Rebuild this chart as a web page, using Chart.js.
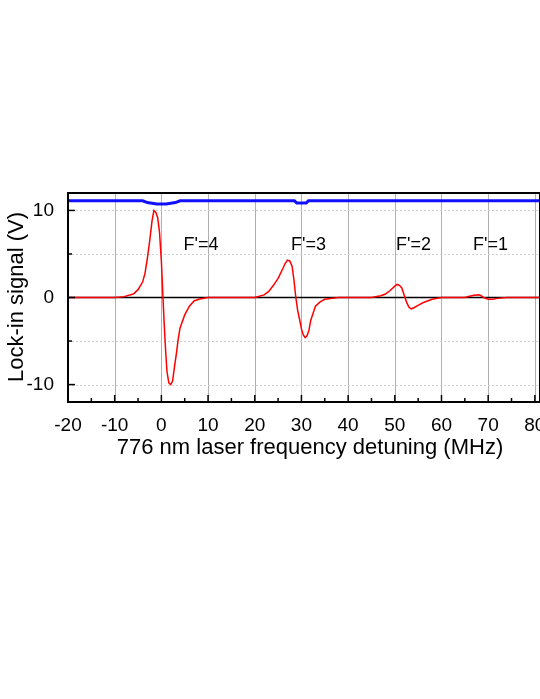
<!DOCTYPE html>
<html>
<head>
<meta charset="utf-8">
<script src="https://cdn.jsdelivr.net/npm/chart.js@4/dist/chart.umd.min.js"></script>
<style>html,body{margin:0;padding:0;background:#fff;}</style>
</head>
<body>
<canvas id="c" width="540" height="699"></canvas>
<script>
// detuning (MHz) and lock-in signal (V)
const redX = [-20, -10, -8, -6, -5, -4, -3.5, -3, -2.5, -2, -1.6, -1.2, -0.8, -0.4, 0, 0.3, 0.6, 0.9, 1.2, 1.6, 2, 2.4, 2.8, 3.2, 3.6, 4, 5, 6, 7, 8, 10,
  20, 22, 23, 24, 25, 26, 26.5, 27, 27.5, 28, 28.4, 28.8, 29.2, 29.6, 30, 30.4, 30.8, 31.2, 31.6, 32, 32.5, 33, 34, 35, 38,
  45, 47, 48, 49, 50, 50.5, 51, 51.5, 52, 52.5, 53, 53.5, 54, 55, 56, 57, 58, 60,
  65, 66, 67, 68, 68.5, 69, 70, 71, 72, 74, 82];
const redY = [0, 0, 0.1, 0.4, 0.9, 1.8, 2.8, 4.5, 6.5, 8.8, 10, 9.8, 9.2, 7.5, 4.2, 0.5, -3, -6, -8.5, -9.8, -10, -9.6, -8, -6.5, -4.8, -3.5, -2, -1, -0.4, -0.2, 0,
  0, 0.3, 0.7, 1.4, 2.2, 3.3, 3.9, 4.3, 4.2, 3.6, 2, 0, -1.5, -2.5, -3.6, -4.3, -4.6, -4.4, -3.8, -2.6, -1.8, -1, -0.5, -0.2, 0,
  0, 0.2, 0.4, 0.8, 1.3, 1.5, 1.4, 1.1, 0.3, -0.5, -1.1, -1.3, -1.2, -0.9, -0.6, -0.4, -0.2, 0,
  0, 0.15, 0.25, 0.3, 0.2, 0, -0.2, -0.2, -0.1, 0, 0];
const blueX = [-20, -4, -3, -1, 1, 3, 4, 28.5, 29, 31, 31.5, 82];
const blueY = [11.1, 11.1, 10.9, 10.75, 10.75, 10.9, 11.1, 11.1, 10.85, 10.85, 11.1, 11.1];
const peakLabels = ["F'=4", "F'=3", "F'=2", "F'=1"];
const peakLabelX = [8.5, 31.5, 54, 70.5];
const peakLabelY = 6;

const toPts = (xs, ys) => xs.map((x, i) => ({x: x, y: ys[i]}));
const FONT = '"Liberation Sans", Arial, sans-serif';

const frame = {
  id: 'frame',
  beforeDatasetsDraw(chart) {
    const {ctx, chartArea: a, scales: {x, y}} = chart;
    ctx.save();
    ctx.lineWidth = 1;
    ctx.strokeStyle = '#b0b0b0';
    for (let v = -10; v <= 80; v += 10) {
      const px = Math.round(x.getPixelForValue(v)) + 0.5;
      ctx.beginPath(); ctx.moveTo(px, a.top); ctx.lineTo(px, a.bottom); ctx.stroke();
    }
    ctx.setLineDash([2, 2]);
    ctx.strokeStyle = '#d0d0d0';
    [-10, -5, 5, 10].forEach(v => {
      const py = Math.round(y.getPixelForValue(v)) + 0.5;
      ctx.beginPath(); ctx.moveTo(a.left, py); ctx.lineTo(a.right, py); ctx.stroke();
    });
    ctx.setLineDash([]);
    ctx.strokeStyle = '#000';
    ctx.lineWidth = 1.5;
    const y0 = y.getPixelForValue(0);
    ctx.beginPath(); ctx.moveTo(a.left, y0); ctx.lineTo(a.right, y0); ctx.stroke();
    ctx.restore();
  },
  afterDatasetsDraw(chart) {
    const {ctx, chartArea: a, scales: {x, y}} = chart;
    ctx.save();
    ctx.strokeStyle = '#000';
    ctx.lineWidth = 2;
    ctx.strokeRect(a.left, a.top, a.right - a.left, a.bottom - a.top);
    ctx.lineWidth = 1.5;
    for (let v = -20; v <= 80; v += 5) {
      const px = x.getPixelForValue(v), len = v % 10 === 0 ? 7 : 4;
      ctx.beginPath(); ctx.moveTo(px, a.bottom); ctx.lineTo(px, a.bottom - len); ctx.stroke();
    }
    for (let v = -10; v <= 10; v += 5) {
      const py = y.getPixelForValue(v), len = v % 10 === 0 ? 7 : 4;
      ctx.beginPath(); ctx.moveTo(a.left, py); ctx.lineTo(a.left + len, py); ctx.stroke();
    }
    ctx.fillStyle = '#000';
    ctx.font = '18px ' + FONT;
    ctx.textAlign = 'center';
    ctx.textBaseline = 'middle';
    peakLabels.forEach((t, i) => ctx.fillText(t, x.getPixelForValue(peakLabelX[i]), y.getPixelForValue(peakLabelY)));
    ctx.font = '22px ' + FONT;
    ctx.fillText('776 nm laser frequency detuning (MHz)', 310, 448);
    ctx.translate(17, 297);
    ctx.rotate(-Math.PI / 2);
    ctx.fillText('Lock-in signal (V)', 0, 0);
    ctx.restore();
  }
};

new Chart(document.getElementById('c'), {
  type: 'line',
  data: {
    datasets: [
      {data: toPts(blueX, blueY), borderColor: '#1010ff', borderWidth: 3, pointRadius: 0, tension: 0},
      {data: toPts(redX, redY), borderColor: '#ff0000', borderWidth: 1.5, pointRadius: 0, tension: 0}
    ]
  },
  options: {
    responsive: false,
    animation: false,
    layout: {padding: {top: 193, right: 0, left: 0, bottom: 0}},
    plugins: {legend: {display: false}, tooltip: {enabled: false}},
    scales: {
      x: {
        type: 'linear', min: -20, max: 81.1,
        grid: {display: false}, border: {display: false},
        afterFit(s) { s.height = 297; s.paddingRight = 0; s.paddingLeft = 0; },
        afterBuildTicks(s) { s.ticks = [-20, -10, 0, 10, 20, 30, 40, 50, 60, 70, 80].map(v => ({value: v})); },
        ticks: {color: '#000', padding: 4, maxRotation: 0, font: {size: 19, family: FONT}}
      },
      y: {
        min: -12, max: 12,
        grid: {display: false}, border: {display: false},
        afterFit(s) { s.width = 68; },
        afterBuildTicks(s) { s.ticks = [-10, 0, 10].map(v => ({value: v})); },
        ticks: {color: '#000', padding: 6, font: {size: 19, family: FONT}}
      }
    }
  },
  plugins: [frame]
});
</script>
</body>
</html>
